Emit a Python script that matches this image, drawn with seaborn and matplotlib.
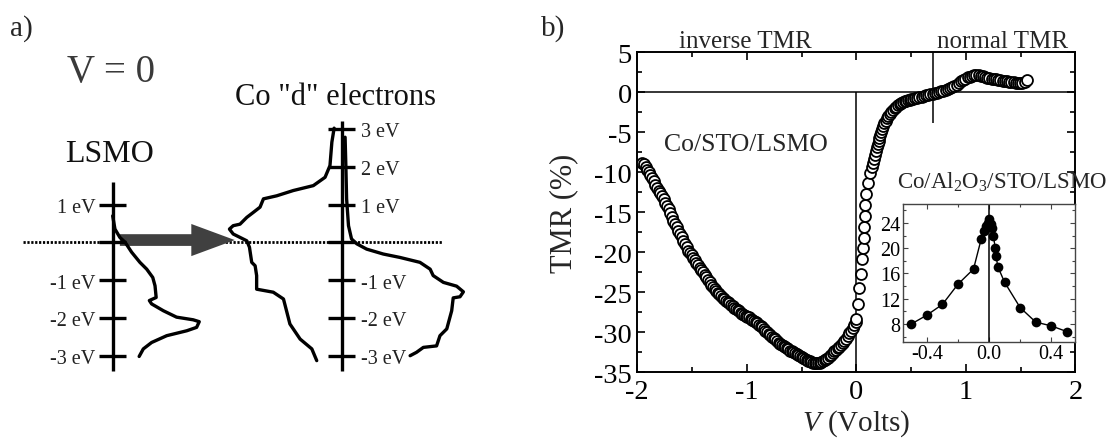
#!/usr/bin/env python
# -*- coding: utf-8 -*-
"""
Figure TMR : schema des densites d'etats (a) et TMR(V) de Co/STO/LSMO (b).
"""

import matplotlib
matplotlib.use("Agg")
import matplotlib.pyplot as plt
from matplotlib.ticker import MultipleLocator
import pandas as pd
import seaborn as sns

# --- panneau b : TMR en fonction de la tension, Co/STO/LSMO (V <= 0)
v_neg = [
    -1.955, -1.940, -1.925, -1.910, -1.895, -1.880, -1.865, -1.850, -1.835, -1.820,
    -1.805, -1.790, -1.775, -1.760, -1.745, -1.730, -1.715, -1.700, -1.685, -1.670,
    -1.655, -1.640, -1.625, -1.610, -1.595, -1.580, -1.565, -1.550, -1.535, -1.520,
    -1.505, -1.490, -1.475, -1.460, -1.445, -1.430, -1.415, -1.400, -1.385, -1.370,
    -1.355, -1.340, -1.325, -1.310, -1.295, -1.280, -1.265, -1.250, -1.235, -1.220,
    -1.205, -1.190, -1.175, -1.160, -1.145, -1.130, -1.115, -1.100, -1.085, -1.070,
    -1.055, -1.040, -1.025, -1.010, -0.995, -0.980, -0.965,
    -0.950, -0.935, -0.920, -0.905, -0.890, -0.875, -0.860, -0.845, -0.830, -0.815,
    -0.800, -0.785, -0.770, -0.755, -0.740, -0.725, -0.710, -0.695, -0.680, -0.665,
    -0.650, -0.635, -0.620, -0.605, -0.590, -0.575, -0.560, -0.545, -0.530, -0.515,
    -0.500, -0.485, -0.470, -0.455, -0.440, -0.425, -0.410, -0.395, -0.380, -0.365,
    -0.350, -0.335, -0.320, -0.305, -0.290, -0.275, -0.260, -0.245, -0.230, -0.215,
    -0.200, -0.185, -0.170, -0.155, -0.140, -0.125, -0.110, -0.095, -0.080, -0.065,
    -0.050, -0.035, -0.020, -0.008, 0.000,
]
tmr_neg = [
    -8.8, -9.0, -9.35, -9.7, -10.0, -10.3, -10.7, -11.1, -11.55, -11.95,
    -12.35, -12.65, -12.95, -13.4, -13.8, -14.2, -14.6, -15.1, -15.6, -16.05,
    -16.5, -16.9, -17.3, -17.7, -18.1, -18.55, -19.0, -19.4, -19.8, -20.1,
    -20.4, -20.7, -21.0, -21.3, -21.65, -21.95, -22.25, -22.5, -22.85, -23.15,
    -23.45, -23.75, -24.1, -24.4, -24.6, -24.85, -25.05, -25.25, -25.5, -25.7,
    -25.85, -26.05, -26.25, -26.4, -26.6, -26.75, -26.95, -27.1, -27.25, -27.4,
    -27.55, -27.7, -27.8, -27.95, -28.05, -28.15, -28.3,
    -28.45, -28.6, -28.75, -28.9, -29.05, -29.25, -29.4, -29.6, -29.8, -30.0,
    -30.2, -30.35, -30.55, -30.75, -30.9, -31.1, -31.3, -31.45, -31.6, -31.75,
    -31.9, -32.0, -32.15, -32.3, -32.4, -32.5, -32.6, -32.75, -32.85, -32.95,
    -33.1, -33.2, -33.35, -33.5, -33.6, -33.65, -33.75, -33.8, -33.85, -33.85,
    -33.8, -33.8, -33.75, -33.65, -33.5, -33.35, -33.2, -33.0, -32.8, -32.6,
    -32.4, -32.2, -32.0, -31.8, -31.6, -31.4, -31.15, -30.8, -30.45, -30.1,
    -29.8, -29.5, -29.1, -28.7, -28.4,
]

# --- panneau b : V > 0
v_pos = [
    0.014, 0.026, 0.042, 0.052, 0.060, 0.066, 0.071, 0.076, 0.082, 0.090,
    0.105, 0.125, 0.140, 0.150, 0.160, 0.170, 0.178, 0.186, 0.194, 0.202,
    0.210, 0.218, 0.226, 0.235, 0.245, 0.255, 0.266, 0.278, 0.291, 0.305,
    0.320, 0.335, 0.350, 0.365, 0.380, 0.395, 0.410, 0.425, 0.440, 0.455,
    0.470, 0.485, 0.500, 0.515, 0.535, 0.555, 0.575, 0.595, 0.615, 0.635,
    0.655, 0.675, 0.695, 0.715, 0.735, 0.755, 0.775, 0.795, 0.815, 0.835,
    0.855, 0.875, 0.895, 0.915, 0.935, 0.955, 0.975, 0.995, 1.015, 1.035,
    1.055, 1.075, 1.095, 1.115, 1.135, 1.155, 1.175, 1.195, 1.215, 1.235,
    1.255, 1.275, 1.295, 1.315, 1.335, 1.355, 1.375, 1.395, 1.415, 1.435,
    1.455, 1.475, 1.495, 1.515, 1.535, 1.560,
]
tmr_pos = [
    -26.5, -24.5, -22.7, -20.9, -19.5, -18.2, -16.9, -15.5, -14.1, -12.7,
    -11.3, -10.1, -9.4, -8.9, -8.4, -7.9, -7.4, -6.9, -6.5, -6.1,
    -5.7, -5.35, -5.0, -4.65, -4.25, -3.9, -3.55, -3.25, -2.95, -2.7,
    -2.45, -2.2, -2.0, -1.8, -1.62, -1.48, -1.35, -1.24, -1.15, -1.06,
    -0.98, -0.92, -0.86, -0.8, -0.74, -0.67, -0.6, -0.53, -0.46, -0.4,
    -0.33, -0.26, -0.19, -0.12, -0.05, 0.02, 0.1, 0.18, 0.26, 0.36,
    0.48, 0.62, 0.78, 0.95, 1.15, 1.35, 1.55, 1.72, 1.86, 1.97,
    2.05, 2.1, 2.12, 2.1, 2.05, 1.98, 1.9, 1.83, 1.76, 1.7,
    1.64, 1.6, 1.55, 1.5, 1.46, 1.42, 1.37, 1.33, 1.28, 1.23,
    1.19, 1.16, 1.16, 1.22, 1.33, 1.58,
]

# --- encart : Co/Al2O3/STO/LSMO
inset_v = [-0.5, -0.4, -0.3, -0.2, -0.1, -0.05, -0.035, -0.02, -0.01, 0.0,
           0.01, 0.018, 0.028, 0.039, 0.045, 0.056, 0.1, 0.2, 0.3, 0.4, 0.5]
inset_tmr = [8.0, 9.4, 11.1, 14.3, 16.7, 21.5, 22.8, 23.5, 24.0, 24.7,
             23.9, 23.2, 22.0, 20.1, 18.8, 17.1, 14.6, 10.6, 8.3, 7.7, 6.8]

# --- panneau a : densites d'etats schematiques (energie en eV)
lsmo_dos = [0.0, 0.06, 0.19, 0.33, 0.50, 0.72, 0.90, 1.06, 1.12, 1.15, 0.97,
            1.03, 1.34, 1.69, 2.13, 2.29, 2.22, 1.96, 1.43, 1.03, 0.81, 0.70]
lsmo_e = [0.70, 0.35, 0.13, 0.0, -0.26, -0.53, -0.71, -0.93, -1.15, -1.46, -1.54,
          -1.63, -1.81, -1.98, -2.05, -2.10, -2.25, -2.34, -2.47, -2.65, -2.82, -3.02]
co_maj_dos = [-0.20, -0.26, -0.31, -0.44, -0.75, -1.28, -1.72, -2.07, -2.16, -2.34,
              -2.51, -2.69, -2.87, -2.97, -2.87, -2.69, -2.51, -2.44, -2.38, -2.29,
              -2.25, -2.25, -1.81, -1.54, -1.46, -1.37, -1.10, -0.79, -0.66]
co_maj_e = [3.02, 2.65, 2.03, 1.72, 1.50, 1.37, 1.23, 1.15, 0.93, 0.79,
            0.66, 0.48, 0.44, 0.35, 0.22, 0.13, 0.04, -0.13, -0.53, -0.62,
            -0.88, -1.24, -1.32, -1.50, -1.81, -2.16, -2.56, -2.82, -3.13]
co_min_dos = [0.09, 0.11, 0.13, 0.18, 0.26, 0.40, 0.66, 1.10, 1.54, 2.07, 2.34, 2.42,
              2.69, 3.04, 3.22, 3.13, 2.95, 2.91, 2.78, 2.60, 2.51, 2.16, 1.98, 1.81]
co_min_e = [2.78, 2.03, 1.15, 0.44, 0.09, -0.04, -0.18, -0.31, -0.40, -0.53, -0.71, -0.88,
            -1.06, -1.16, -1.31, -1.44, -1.47, -1.81, -2.29, -2.47, -2.74, -2.78, -2.91, -3.00]
lsmo_levels = [1, 0, -1, -2, -3]
co_levels = [3, 2, 1, 0, -1, -2, -3]


def main():
    sns.set_theme(style="ticks")
    plt.rcParams["font.family"] = ["Liberation Serif", "DejaVu Serif"]
    plt.rcParams["mathtext.fontset"] = "custom"
    plt.rcParams["mathtext.rm"] = "Liberation Serif"
    plt.rcParams["mathtext.it"] = "Liberation Serif:italic"
    plt.rcParams["axes.unicode_minus"] = False
    plt.rcParams["axes.edgecolor"] = "black"
    plt.rcParams["xtick.color"] = "black"
    plt.rcParams["ytick.color"] = "black"

    fig = plt.figure(figsize=(11.13, 4.39), dpi=100)

    # ---------------- panneau a ----------------
    ax_a = fig.add_axes([0, 0, 540 / 1113, 1])
    ax_a.set_xlim(-2.981, 11.304)
    ax_a.set_ylim(-5.177, 6.437)
    ax_a.axis("off")
    co_x = 6.058  # position de l'axe du Co
    lw = 2.4
    half = 0.35

    ax_a.plot([-2.365, 8.746], [0, 0], color="black", lw=2, ls=(0, (0.8, 0.6)), zorder=1)
    ax_a.arrow(0.19, 0.06, 3.04, 0, width=0.31, head_width=0.85, head_length=1.15,
               length_includes_head=True, color="#404040", lw=0, zorder=2)

    ax_a.plot([0, 0], [1.587, -3.397], color="black", lw=lw, solid_capstyle="butt")
    ax_a.plot([co_x, co_x], [3.217, -3.397], color="black", lw=lw, solid_capstyle="butt")
    for lev in lsmo_levels:
        ax_a.plot([-half, half], [lev, lev], color="black", lw=lw, solid_capstyle="butt")
        if lev != 0:
            ax_a.text(-0.45, lev - 0.08, f"{lev} eV", ha="right", va="center",
                      fontsize=14.5, color="#222222")
    for lev in co_levels:
        ax_a.plot([co_x - half, co_x + half], [lev, lev], color="black", lw=lw,
                  solid_capstyle="butt")
        if lev != 0:
            ax_a.text(co_x + 0.5, lev - 0.08, f"{lev} eV", ha="left", va="center",
                      fontsize=14.5, color="#222222")

    df_lsmo = pd.DataFrame({"dos": lsmo_dos, "e": lsmo_e})
    sns.lineplot(data=df_lsmo, x="dos", y="e", sort=False, estimator=None,
                 color="black", lw=lw, ax=ax_a, zorder=3)
    df_maj = pd.DataFrame({"dos": [co_x + d for d in co_maj_dos], "e": co_maj_e})
    sns.lineplot(data=df_maj, x="dos", y="e", sort=False, estimator=None,
                 color="black", lw=lw, ax=ax_a, zorder=3)
    df_min = pd.DataFrame({"dos": [co_x + d for d in co_min_dos], "e": co_min_e})
    sns.lineplot(data=df_min, x="dos", y="e", sort=False, estimator=None,
                 color="black", lw=lw, ax=ax_a, zorder=3)

    ax_a.text(-1.21, 4.26, "V = 0", fontsize=28, color="#3a3a3a", va="baseline")
    ax_a.text(-1.25, 2.16, "LSMO", fontsize=23, color="#111111", va="baseline")
    ax_a.text(3.235, 3.66, 'Co "d" electrons', fontsize=22, color="#111111",
              va="baseline")
    ax_a.set_xlabel("")
    ax_a.set_ylabel("")

    fig.text(10 / 1113, 1 - 36 / 439, "a)", fontsize=21, va="baseline")
    fig.text(541 / 1113, 1 - 36 / 439, "b)", fontsize=21, va="baseline")

    # ---------------- panneau b ----------------
    ax = fig.add_axes([0.5726, 0.1497, 0.3937, 0.7289])
    df_b = pd.DataFrame({"V": v_neg + v_pos, "TMR": tmr_neg + tmr_pos})
    ax.axhline(0, color="black", lw=1.1, zorder=1)
    ax.vlines(0, -35, 0, color="black", lw=1.1, zorder=1)
    ax.vlines(0.7, -3.9, 5, color="black", lw=1.1, zorder=1)
    sns.scatterplot(data=df_b, x="V", y="TMR", ax=ax, marker="o", s=62,
                    color="white", edgecolor="black", linewidth=1.3, zorder=3)
    ax.set_xlim(-2, 2)
    ax.set_ylim(-35, 5)
    ax.xaxis.set_major_locator(MultipleLocator(1))
    ax.xaxis.set_minor_locator(MultipleLocator(0.5))
    ax.yaxis.set_major_locator(MultipleLocator(5))
    ax.yaxis.set_minor_locator(MultipleLocator(2.5))
    ax.tick_params(which="both", direction="in", top=True, right=True, width=1.2)
    ax.tick_params(which="major", length=6, labelsize=20.5)
    ax.tick_params(which="minor", length=3.5)
    ax.tick_params(axis="x", pad=5)
    ax.tick_params(axis="y", pad=4)
    for sp in ax.spines.values():
        sp.set_linewidth(1.4)
    ax.set_xlabel("$V$ (Volts)", fontsize=21, labelpad=2)
    ax.set_ylabel("TMR (%)", fontsize=22, labelpad=11)

    ax.text(-1.618, 5.7, "inverse TMR", fontsize=18, va="baseline")
    ax.text(0.733, 5.7, "normal TMR", fontsize=18, va="baseline")
    ax.text(-1.753, -7.25, "Co/STO/LSMO", fontsize=18.5, va="baseline")
    ax.text(0.367, -11.96, "Co/Al$_2$O$_3$/STO/LSMO", fontsize=16.5, va="baseline",
            clip_on=False, zorder=5)

    # ---------------- encart ----------------
    axi = fig.add_axes([0.8111, 0.2180, 0.1548, 0.3157])
    axi.axvline(0, color="black", lw=1.1, zorder=1)
    df_i = pd.DataFrame({"V": inset_v, "TMR": inset_tmr})
    sns.lineplot(data=df_i, x="V", y="TMR", ax=axi, estimator=None, color="black",
                 lw=1, marker="o", markersize=7, markeredgewidth=0, zorder=3)
    axi.set_xlim(-0.555, 0.553)
    axi.set_ylim(5.1, 27.05)
    axi.set_xticks([-0.4, 0.0, 0.4])
    axi.set_xticklabels(["-0.4", "0.0", "0.4"])
    axi.xaxis.set_minor_locator(MultipleLocator(0.2))
    axi.set_yticks([8, 12, 16, 20, 24])
    axi.yaxis.set_minor_locator(MultipleLocator(2))
    axi.tick_params(which="both", direction="in", top=True, right=True, width=0.8,
                    color="#444444")
    axi.tick_params(which="major", length=3.5, labelsize=14.5)
    axi.tick_params(which="minor", length=2)
    axi.tick_params(axis="x", pad=1)
    axi.tick_params(axis="y", pad=1.5)
    for sp in axi.spines.values():
        sp.set_linewidth(1.0)
        sp.set_color("#444444")
    axi.set_xlabel("")
    axi.set_ylabel("")

    fig.savefig("out.png", dpi=100)
    plt.close(fig)


if __name__ == "__main__":
    main()
